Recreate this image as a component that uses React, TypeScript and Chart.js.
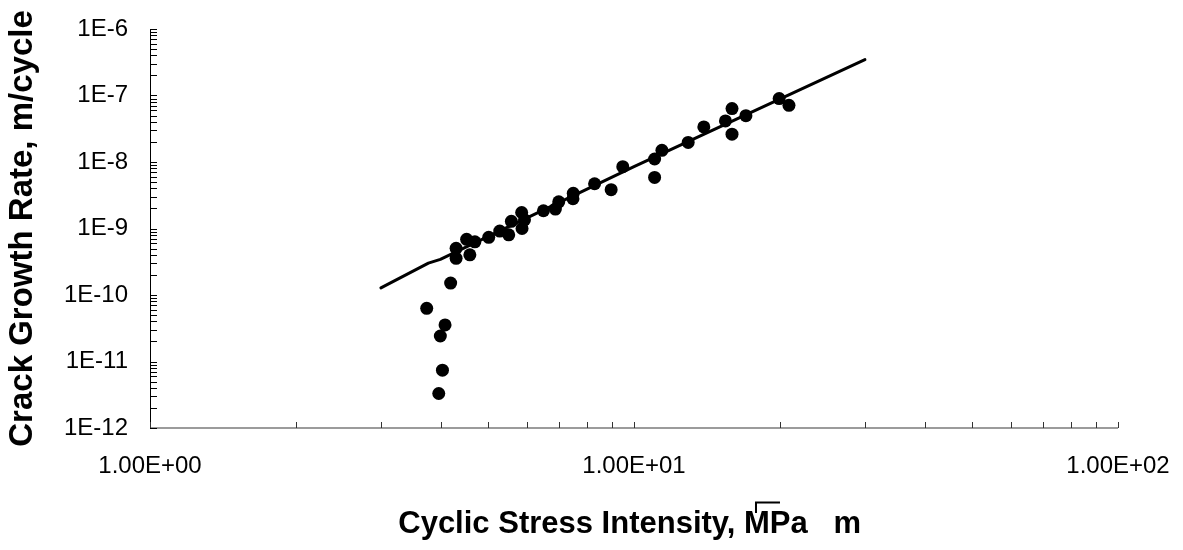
import React, { useEffect, useRef } from 'react';
import { Chart, registerables } from 'chart.js';

Chart.register(...registerables);

// Measured data: cyclic stress intensity (MPa·√m) and crack growth rate (m/cycle)
const dataK = [3.73, 3.95, 4.02, 3.98, 4.07, 4.18, 4.29, 4.29, 4.51, 4.58, 4.69, 5.01, 5.28, 5.51, 5.58, 5.86, 5.87, 5.94, 6.5, 6.88, 6.99, 7.49, 7.48, 8.29, 8.97, 9.48, 11.03, 11.42, 11.03, 12.94, 13.94, 15.45, 15.94, 15.94, 17.03, 19.95, 20.9];
const dataRate = [6.3e-11, 3.3e-12, 7.4e-12, 2.42e-11, 3.55e-11, 1.51e-10, 3.56e-10, 5.03e-10, 6.87e-10, 4.02e-10, 6.3e-10, 7.37e-10, 9.14e-10, 8.04e-10, 1.28e-9, 1.74e-9, 1.0e-9, 1.35e-9, 1.85e-9, 1.96e-9, 2.52e-9, 3.39e-9, 2.8e-9, 4.71e-9, 3.83e-9, 8.5e-9, 1.11e-8, 1.5e-8, 5.86e-9, 1.97e-8, 3.37e-8, 4.14e-8, 6.35e-8, 2.62e-8, 4.98e-8, 8.98e-8, 7.12e-8];

// Fitted curve
const fitK = [3, 3.76, 3.98, 10, 30];
const fitRate = [1.28e-10, 3.01e-10, 3.44e-10, 8.5e-9, 3.47e-7];

// Axis ticks
const xTickValues = [1, 10, 100];
const xTickLabels = ['1.00E+00', '1.00E+01', '1.00E+02'];
const yTickValues = [1e-12, 1e-11, 1e-10, 1e-9, 1e-8, 1e-7, 1e-6];
const yTickLabels = ['1E-12', '1E-11', '1E-10', '1E-9', '1E-8', '1E-7', '1E-6'];

const xTitlePrefix = 'Cyclic Stress Intensity, ';
const xTitle = xTitlePrefix + 'MPa   m ';
const yTitle = 'Crack Growth Rate, m/cycle';

const FAMILY = "'Liberation Sans', Arial, sans-serif";
const TICK_SIZE = 24;
const X_TITLE_SIZE = 31;
const Y_TITLE_SIZE = 33;

const axesPlugin = {
  id: 'axesTicks',
  afterDraw(chart: any) {
    const { ctx, chartArea, scales } = chart;
    const { left, right, top, bottom } = chartArea;
    ctx.save();
    // y axis line
    ctx.strokeStyle = '#000';
    ctx.lineWidth = 1;
    ctx.beginPath();
    ctx.moveTo(left + 0.5, top);
    ctx.lineTo(left + 0.5, bottom);
    ctx.stroke();
    // x axis line
    ctx.strokeStyle = '#7a7a7a';
    ctx.lineWidth = 1.5;
    ctx.beginPath();
    ctx.moveTo(left, bottom);
    ctx.lineTo(right, bottom);
    ctx.stroke();
    // y ticks (inside)
    ctx.strokeStyle = '#000';
    ctx.lineWidth = 1;
    const ys = scales.y;
    const yMinE = Math.round(Math.log10(ys.min));
    const yMaxE = Math.round(Math.log10(ys.max));
    for (let e = yMinE; e <= yMaxE; e++) {
      for (let m = 1; m <= 9; m++) {
        const v = m * Math.pow(10, e);
        if (v > ys.max * 1.0001) break;
        const py = Math.round(ys.getPixelForValue(v)) + 0.5;
        ctx.beginPath();
        ctx.moveTo(left, py);
        ctx.lineTo(left + 7, py);
        ctx.stroke();
      }
    }
    // x ticks (inside)
    ctx.strokeStyle = '#333';
    const xs = scales.x;
    const xMinE = Math.round(Math.log10(xs.min));
    const xMaxE = Math.round(Math.log10(xs.max));
    for (let e = xMinE; e <= xMaxE; e++) {
      for (let m = 1; m <= 9; m++) {
        const v = m * Math.pow(10, e);
        if (v > xs.max * 1.0001) break;
        const px = Math.round(xs.getPixelForValue(v)) + 0.5;
        ctx.beginPath();
        ctx.moveTo(px, bottom);
        ctx.lineTo(px, bottom - 6);
        ctx.stroke();
      }
    }
    // radical sign over "MPa" in the x title
    ctx.font = `bold ${X_TITLE_SIZE}px ${FAMILY}`;
    const total = ctx.measureText(xTitle).width;
    const pre = ctx.measureText(xTitlePrefix).width;
    const cx = (xs.left + xs.right) / 2;
    const startM = cx - total / 2 + pre;
    const capTop = 512;
    ctx.strokeStyle = '#000';
    ctx.lineWidth = 2;
    ctx.beginPath();
    ctx.moveTo(startM + 12, capTop + 1);
    ctx.lineTo(startM + 12, capTop - 9.5);
    ctx.lineTo(startM + 36, capTop - 9.5);
    ctx.stroke();
    ctx.restore();
  },
};

export default function App() {
  const ref = useRef<HTMLCanvasElement>(null);
  useEffect(() => {
    document.body.style.margin = '0';
    const chart = new Chart(ref.current as HTMLCanvasElement, {
      type: 'scatter',
      data: {
        datasets: [
          {
            data: fitK.map((k, i) => ({ x: k, y: fitRate[i] })),
            showLine: true,
            borderColor: '#000',
            backgroundColor: '#000',
            borderWidth: 3,
            pointRadius: 0,
            borderCapStyle: 'round',
            borderJoinStyle: 'round',
          },
          {
            data: dataK.map((k, i) => ({ x: k, y: dataRate[i] })),
            showLine: false,
            pointRadius: 6.5,
            pointHoverRadius: 6.5,
            backgroundColor: '#000',
            borderColor: '#000',
            borderWidth: 0,
          },
        ],
      },
      options: {
        responsive: false,
        animation: false,
        devicePixelRatio: 1,
        events: [],
        layout: { padding: { left: 0, right: 65, top: 29, bottom: 0 } },
        plugins: { legend: { display: false }, tooltip: { enabled: false } },
        scales: {
          x: {
            type: 'logarithmic',
            min: 1,
            max: 100,
            afterBuildTicks: (s: any) => {
              s.ticks = xTickValues.map((v) => ({ value: v }));
            },
            afterFit: (s: any) => {
              s.height = 122;
              s.paddingLeft = 0;
              s.paddingRight = 0;
              s.paddingTop = 0;
              s.paddingBottom = 0;
            },
            grid: { display: false, drawTicks: false },
            border: { display: false },
            ticks: {
              padding: 24,
              color: '#000',
              maxRotation: 0,
              autoSkip: false,
              font: { family: FAMILY, size: TICK_SIZE },
              callback: (_v: any, i: number) => xTickLabels[i],
            },
            title: {
              display: true,
              text: xTitle,
              color: '#000',
              font: { family: FAMILY, size: X_TITLE_SIZE, weight: 'bold' },
              padding: { top: 0, bottom: 7 },
            },
          },
          y: {
            type: 'logarithmic',
            min: 1e-12,
            max: 1e-6,
            afterBuildTicks: (s: any) => {
              s.ticks = yTickValues.map((v) => ({ value: v }));
            },
            afterFit: (s: any) => {
              s.width = 150;
              s.paddingLeft = 0;
              s.paddingRight = 0;
              s.paddingTop = 0;
              s.paddingBottom = 0;
            },
            grid: { display: false, drawTicks: false },
            border: { display: false },
            ticks: {
              padding: 22,
              color: '#000',
              autoSkip: false,
              font: { family: FAMILY, size: TICK_SIZE },
              callback: (_v: any, i: number) => yTickLabels[i],
            },
            title: {
              display: true,
              text: yTitle,
              color: '#000',
              font: { family: FAMILY, size: Y_TITLE_SIZE, weight: 'bold' },
              padding: { top: 3, bottom: 0 },
            },
          },
        },
      },
      plugins: [axesPlugin],
    } as any);
    return () => chart.destroy();
  }, []);
  return <canvas ref={ref} width={1183} height={550} style={{ display: 'block' }} />;
}
